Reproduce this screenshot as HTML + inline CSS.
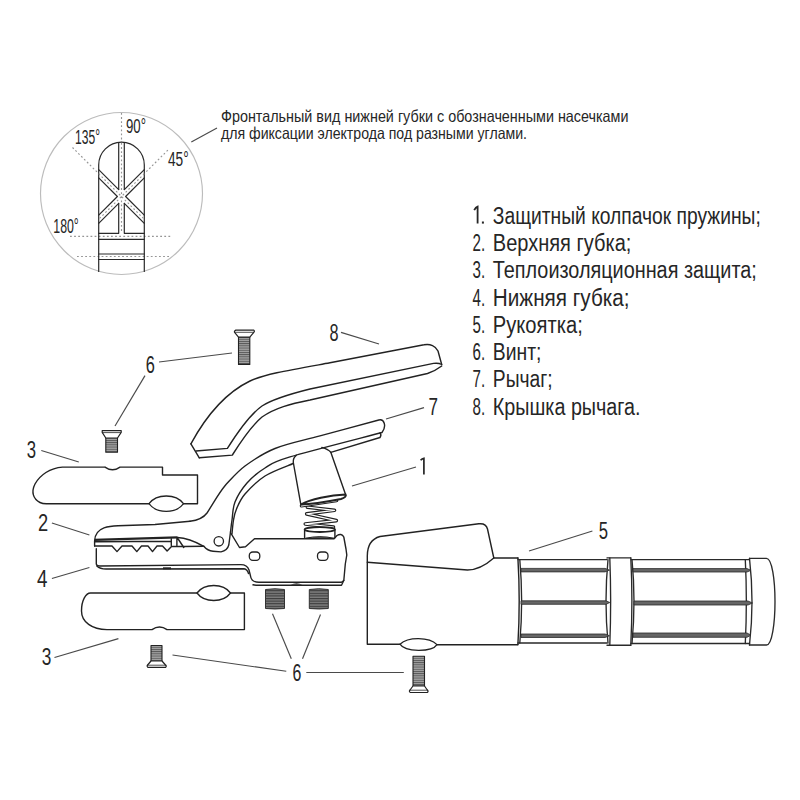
<!DOCTYPE html>
<html><head><meta charset="utf-8">
<style>
html,body{margin:0;padding:0;background:#fff;width:800px;height:800px;overflow:hidden}
svg{display:block}
text{font-family:"Liberation Sans",sans-serif;fill:#262626}
.k{fill:none;stroke:#222;stroke-width:1.4;stroke-linejoin:round;stroke-linecap:round}
.t{fill:none;stroke:#2a2a2a;stroke-width:1.2;stroke-linejoin:round;stroke-linecap:round}
.ld{fill:none;stroke:#4a4a4a;stroke-width:1.15}
.dot{fill:none;stroke:#959595;stroke-width:1.15;stroke-dasharray:1.8 2.3}
.sp{fill:none;stroke:#222;stroke-width:3.6;stroke-linecap:round}
.sw{fill:none;stroke:#fff;stroke-width:1.3;stroke-linecap:round}
.bar{fill:#666;stroke:#2a2a2a;stroke-width:0.8}
</style></head><body>
<svg width="800" height="800" viewBox="0 0 800 800">
<defs>
<pattern id="thr" width="6" height="2.6" patternUnits="userSpaceOnUse">
<rect width="6" height="2.6" fill="#7c7c7c"/><rect width="6" height="1.1" fill="#3c3c3c"/>
</pattern>
<pattern id="thr2" width="6" height="2.2" patternUnits="userSpaceOnUse">
<rect width="6" height="2.2" fill="#a4a4a4"/><rect width="6" height="0.9" fill="#555"/>
</pattern>
</defs>
<rect width="800" height="800" fill="#fff"/>

<!-- ===== circle detail ===== -->
<g id="circ">
<circle cx="121.5" cy="193.5" r="81" fill="none" stroke="#bcbcbc" stroke-width="1.15"/>
<line class="dot" x1="121.5" y1="113" x2="121.5" y2="142"/>
<line class="dot" x1="72.5" y1="147.5" x2="97.5" y2="172.5"/>
<line class="dot" x1="146.3" y1="171.7" x2="168.8" y2="149.2"/>
<line class="dot" x1="70" y1="236.3" x2="172" y2="236.3"/>
<line class="dot" x1="77" y1="256.5" x2="170" y2="256.5"/>
<path class="t" d="M98.7,271.5 V165 A22.8,22.8 0 0 1 144.3,165 V271.5"/>
<path class="t" d="M118.7,143 V189.4 M124.3,143 V189.4"/>
<line class="dot" x1="121.5" y1="143" x2="121.5" y2="233"/>
<path class="t" d="M98.7,169.6 L118.7,189.6 M98.7,177.9 L117.4,196.5 L98.7,215.2 M98.7,223.4 L118.7,203.4"/>
<path class="t" d="M144.3,169.6 L124.3,189.6 M144.3,177.9 L125.6,196.5 L144.3,215.2 M144.3,223.4 L124.3,203.4"/>
<line class="dot" x1="98.7" y1="173.7" x2="144.3" y2="219.3"/>
<line class="dot" x1="144.3" y1="173.7" x2="98.7" y2="219.3"/>
<path class="t" d="M118.7,203.4 V233.3 H98.7 M124.3,203.4 V233.3 H144.3"/>
<path class="t" d="M98.7,239.3 H144.3 M98.7,254 H144.3 M98.7,259.5 H144.3"/>
<text x="126" y="133" font-size="19.5" textLength="20" lengthAdjust="spacingAndGlyphs">90°</text>
<text x="75" y="144.4" font-size="19.5" textLength="25" lengthAdjust="spacingAndGlyphs">135°</text>
<text x="168" y="166.3" font-size="19.5" textLength="20.7" lengthAdjust="spacingAndGlyphs">45°</text>
<text x="53.3" y="233.3" font-size="19.5" textLength="25.5" lengthAdjust="spacingAndGlyphs">180°</text>
</g>
<line class="ld" x1="191.3" y1="141.9" x2="217" y2="128"/>
<text x="221" y="122.2" font-size="16.5" textLength="407.5" lengthAdjust="spacingAndGlyphs">Фронтальный вид нижней губки с обозначенными насечками</text>
<text x="221" y="138.6" font-size="16.5" textLength="306" lengthAdjust="spacingAndGlyphs">для фиксации электрода под разными углами.</text>

<!-- ===== list ===== -->
<g font-size="23.5">
<path d="M474.2,210.2 Q475.8,207.2 477.6,206.6 V223.6" fill="none" stroke="#262626" stroke-width="1.8"/><rect x="481.9" y="221.5" width="2" height="2.1" fill="#262626"/><text x="492.8" y="223.6" textLength="268.0" lengthAdjust="spacingAndGlyphs">Защитный колпачок пружины;</text>
<text x="472.6" y="250.9" textLength="12.6" lengthAdjust="spacingAndGlyphs">2.</text><text x="492.8" y="250.9" textLength="138.6" lengthAdjust="spacingAndGlyphs">Верхняя губка;</text>
<text x="472.6" y="278.2" textLength="12.6" lengthAdjust="spacingAndGlyphs">3.</text><text x="492.8" y="278.2" textLength="264.0" lengthAdjust="spacingAndGlyphs">Теплоизоляционная защита;</text>
<text x="472.6" y="305.5" textLength="12.6" lengthAdjust="spacingAndGlyphs">4.</text><text x="492.8" y="305.5" textLength="136.8" lengthAdjust="spacingAndGlyphs">Нижняя губка;</text>
<text x="472.6" y="332.8" textLength="12.6" lengthAdjust="spacingAndGlyphs">5.</text><text x="492.8" y="332.8" textLength="90.0" lengthAdjust="spacingAndGlyphs">Рукоятка;</text>
<text x="472.6" y="360.1" textLength="12.6" lengthAdjust="spacingAndGlyphs">6.</text><text x="492.8" y="360.1" textLength="48.6" lengthAdjust="spacingAndGlyphs">Винт;</text>
<text x="472.6" y="387.4" textLength="12.6" lengthAdjust="spacingAndGlyphs">7.</text><text x="492.8" y="387.4" textLength="59.8" lengthAdjust="spacingAndGlyphs">Рычаг;</text>
<text x="472.6" y="414.7" textLength="12.6" lengthAdjust="spacingAndGlyphs">8.</text><text x="492.8" y="414.7" textLength="147.8" lengthAdjust="spacingAndGlyphs">Крышка рычага.</text>
</g>

<!-- ===== labels ===== -->
<g font-size="24">
<text x="329.6" y="340.5" textLength="9.04" lengthAdjust="spacingAndGlyphs">8</text>
<text x="428.6" y="415.3" textLength="9.49" lengthAdjust="spacingAndGlyphs">7</text>
<text x="145.7" y="372.5" textLength="9.10" lengthAdjust="spacingAndGlyphs">6</text>
<text x="26.75" y="457.5" textLength="9.32" lengthAdjust="spacingAndGlyphs">3</text>
<text x="38" y="530.6" textLength="10.17" lengthAdjust="spacingAndGlyphs">2</text>
<text x="37" y="587" textLength="10.45" lengthAdjust="spacingAndGlyphs">4</text>
<text x="41.75" y="665.25" textLength="9.60" lengthAdjust="spacingAndGlyphs">3</text>
<text x="292.4" y="680.9" textLength="8.87" lengthAdjust="spacingAndGlyphs">6</text>
<text x="598.8" y="538.8" textLength="9.27" lengthAdjust="spacingAndGlyphs">5</text>
</g>
<path d="M420.6,460.2 Q422,458.6 423.9,458.3 V474.4" fill="none" stroke="#262626" stroke-width="1.7"/>
<g class="ld">
<line x1="341" y1="332.4" x2="379" y2="344"/>
<line x1="424" y1="407.6" x2="386" y2="419"/>
<line x1="416" y1="467" x2="352" y2="486"/>
<line x1="159" y1="362" x2="232" y2="353"/>
<line x1="145" y1="375.6" x2="115" y2="426"/>
<line x1="41.3" y1="450.5" x2="78.8" y2="462"/>
<line x1="51.9" y1="523" x2="89.4" y2="535"/>
<line x1="51.9" y1="578.5" x2="89.4" y2="567.5"/>
<line x1="54.5" y1="657.5" x2="118.4" y2="638.6"/>
<line x1="272.5" y1="613.8" x2="291.3" y2="658.8"/>
<line x1="320.5" y1="614.5" x2="302.5" y2="658.8"/>
<line x1="306.3" y1="672.5" x2="403.8" y2="672.5"/>
<line x1="172.5" y1="655" x2="286.3" y2="671.3"/>
<line x1="529" y1="551" x2="592.4" y2="531"/>
</g>

<!-- ===== screws ===== -->
<g stroke="#222" stroke-linejoin="round">
<rect x="238.5" y="336.8" width="11.3" height="27.6" fill="url(#thr2)" stroke-width="1.1"/>
<path d="M235.8,330.1 H253.8 Q255,331.2 253.8,332.4 L249.8,337.1 H238.5 L234.6,332.4 Q233.8,331.2 235.8,330.1 Z" fill="#fff" stroke-width="1.2"/>
<line x1="235" y1="332.3" x2="254" y2="332.3" stroke-width="0.8"/>
</g>
<g stroke="#222" stroke-linejoin="round">
<rect x="105.8" y="437.5" width="11.7" height="14.7" fill="url(#thr2)" stroke-width="1.1"/>
<path d="M102.2,430.6 H121.2 L121.2,432.4 L117.5,438 H105.8 L102.2,432.4 Z" fill="#fff" stroke-width="1.2"/>
<line x1="102.3" y1="432.6" x2="120.8" y2="432.6" stroke-width="0.8"/>
</g>
<g stroke="#222" stroke-linejoin="round">
<rect x="151" y="645.5" width="11" height="16" fill="url(#thr2)" stroke-width="1.1"/>
<path d="M148,667.4 H165.5 Q167,666.3 165.5,665 L162,661 H151 L147.6,665 Q146.5,666.3 148,667.4 Z" fill="#fff" stroke-width="1.2"/>
<line x1="147.2" y1="665.2" x2="166.3" y2="665.2" stroke-width="0.8"/>
</g>
<g stroke="#222" stroke-linejoin="round">
<rect x="413" y="656.3" width="11.5" height="30" fill="url(#thr2)" stroke-width="1.1"/>
<path d="M410.3,692.5 H427.3 Q428.8,691.3 427.3,690 L424.5,686 H413 L410,690 Q408.6,691.3 410.3,692.5 Z" fill="#fff" stroke-width="1.2"/>
<line x1="409.5" y1="690.2" x2="428" y2="690.2" stroke-width="0.8"/>
</g>
<g stroke="#333" stroke-width="1">
<path d="M265.5,589.5 Q275,588 284.5,589.5 V608.5 Q275,609.5 265.5,608.5 Z" fill="url(#thr)"/>
<path d="M309.3,589.5 Q318.8,588 328.3,589.5 V608.5 Q318.8,609.5 309.3,608.5 Z" fill="url(#thr)"/>
</g>

<!-- ===== upper protection 3 ===== -->
<path class="k" d="M105,467.1 H62.5 C50,468 40,475 35,484 C31,492 33,499 40,502.5 C42,503.5 44,503.8 46.3,503.8 H197.5 V475 H162.5 V467.1 H120 Q112.5,472.5 105,467.1"/>
<path d="M149,503.7 C156.6,493.4 175.9,493.4 183.5,503.7 C175.9,514.0 156.6,514.0 149,503.7 Z" fill="#fff" stroke="#222" stroke-width="1.3"/>

<!-- ===== lower protection 3 ===== -->
<path class="k" d="M90.5,593 H244.4 V629.6 H167 Q159.5,624.5 152,629.6 H107 C92,629.6 81.5,622 81.5,611 C81.5,600 86,593 90.5,593 Z"/>
<path d="M197,593 C204.4,583.0 223.1,583.0 230.5,593 C223.1,603.0 204.4,603.0 197,593 Z" fill="#fff" stroke="#222" stroke-width="1.3"/>

<!-- ===== lever 8 ===== -->
<g class="k">
<path d="M190.9,443.8 C205,418 225,393 250,381 C265,374 290,370 330,362.8 L424,344.8 C430,343.5 436,346 438,351 L441.7,364.5"/>
<path d="M196,451 L227.4,448.4 C237,433 250,414.5 262,406 C272,399.5 290,394 310,389 L433.5,363.4 C437,363 440,363.5 441.7,364.5"/>
<path d="M199.3,457.8 L232.3,455.1 C240,443 250,427 262,417 C275,408 290,404 310,400 L427.5,373.5 C433,371.5 438.5,368.5 441.7,366"/>
<path d="M190.9,443.8 L199.3,457.8"/>
</g>

<!-- ===== cap 1 (behind lever) ===== -->
<g class="k">
<path d="M296.3,455.3 C293.8,457.5 293,460 293.3,462.5 L300.8,504.4"/>
<path d="M321.8,447.4 C325.5,448.5 329,450 330.8,452.3 L345.4,493.9"/>
</g>

<!-- ===== lever 7 ===== -->
<g class="k">
<path d="M190,521.3 C197,520.4 203,518.5 207,513 C213,504 218,494 226,484.5  C229.2,481.4 236.8,472.0 245.0,466.0 C253.2,460.0 262.5,453.5 275.0,448.5 C287.5,443.5 302.7,440.6 320.0,435.9 C337.3,431.1 369.0,422.6 378.8,420.0 C384,418.5 387,426 382,432.5  C366.7,436.6 309.5,451.0 290.0,456.9 C270.5,462.8 272.2,463.6 265.0,468.0 C257.8,472.4 252.0,477.3 247.0,483.0 C242.0,488.7 237.5,495.8 235.0,502.0 C232.5,508.2 232.8,515.0 232.0,520.0 C231.2,525.0 230.8,530.0 230.5,532.0"/>
<path d="M380,433 C381,434 381,436 380,437.5 L330.8,452.3"/>
<path d="M293.3,463.5 C288.6,465.6 273.1,470.9 265.0,476.0 C256.9,481.1 249.8,488.5 245.0,494.0 C240.2,499.5 238.4,504.7 236.5,509.0 C234.6,513.3 234.2,515.9 233.5,520.0 C232.8,524.1 232.2,531.5 232.0,533.8"/>
</g>

<!-- ===== spring ===== -->
<g stroke-linejoin="round" stroke-linecap="round" fill="none">
<path d="M307.4,507.2 L334.5,510.3 L306.7,513.9 L336.3,520.6 L305.3,524 L333.5,527.1" stroke="#222" stroke-width="3.6"/>
<path d="M307.4,507.2 L334.5,510.3 L306.7,513.9 L336.3,520.6 L305.3,524 L333.5,527.1" stroke="#fff" stroke-width="1.3"/>
<path d="M301.5,505.8 L336.5,500.5" stroke="#222" stroke-width="3.6"/>
<path d="M301.5,505.8 L336.5,500.5" stroke="#fff" stroke-width="1.3"/>
</g>
<path d="M300.8,504.6 C310,499.5 330,495 345.6,494.6 C346.5,496 345,497.8 341,499 C328,501.5 312,504.2 300.8,504.6 Z" fill="#fff" stroke="#222" stroke-width="2"/>
<path d="M304.6,530 V537.8 M334.9,530 V537.8" class="k"/>
<ellipse cx="319.8" cy="529.6" rx="15.2" ry="2.4" fill="#fff" stroke="#222" stroke-width="1.8"/>
<path d="M305.5,538.3 Q320,535 334,538.3 Z" fill="#666" stroke="#222" stroke-width="1"/>

<!-- ===== upper jaw 2 ===== -->
<g class="k">
<path d="M94.6,540.9 C94.8,534 98,530 104,527.8 C108,526.5 112,526 118,525.8 L155,524.5 L190,521.3"/>
<path d="M94.6,540.9 V546 M177.5,537.5 C186,538 196,542 203.8,546.3 C206,549 209,551 213,551.3 L221,551.9 C225,551 228,548 228.8,545 L230.5,532"/>
<path d="M94.6,546 H112 L117,551.6 L122,546 H132 L136.8,551.6 L141.5,546 H148 L152.5,551.6 L157,546 H162.5 L167.1,551 L171.5,546.5 H183.8 L203.8,546.3"/>
<path d="M171.3,538.8 V545.5 M176.9,538.5 V545.5 M177.5,538 L183.8,547.5 M94.6,541.8 L171.3,541.3"/>
</g>
<path d="M94.6,539.8 L177.5,537.3" stroke="#222" stroke-width="2.2" fill="none"/>
<circle cx="218.8" cy="541.3" r="4.7" fill="none" stroke="#222" stroke-width="1.3"/>

<!-- ===== lower jaw 4 ===== -->
<g class="k">
<path d="M96.3,548.8 V564 C96.5,565.5 97.5,566 100,566 L240.8,564.6 C245,564.6 248,567 249,570 L250.5,576 C251,580 254,582.3 259,582.3 H341.5 L343.8,580.5 L345.3,564 L346.8,555 L346,549 L343.8,537 C342.5,534 339.5,534 337,535.5 L334,538.8 H254.5 L245.5,546.8 L239.5,547.5 L231.3,533.8"/>
<path d="M96.8,566 C99,568 102,569 106,569 L244,568.8 C246.5,569.3 247.8,571 248.5,573.5"/>
<path d="M253,584.8 Q255,585.3 259,585.3 H341.5 L343.8,580.5"/>
</g>
<rect x="163" y="567.3" width="8" height="2" fill="#222"/>
<path d="M290.5,584.8 Q296.5,581.8 302.5,584.8 Z" fill="#333"/>
<rect x="249.3" y="552" width="10.5" height="8.3" rx="3.5" fill="none" stroke="#222" stroke-width="1.3"/>
<rect x="317.5" y="552" width="10.5" height="8.3" rx="3.5" fill="none" stroke="#222" stroke-width="1.3"/>

<!-- ===== handle 5 ===== -->
<g class="k">
<path d="M367.3,644.2 V556 C367.3,546 371,539 380,536.5 L478.8,523.8 C483,523.3 486.5,525 487.5,529 L493.8,558 H517.9 M437,644.7 H517.9 M400,644.2 H367.3"/>
<path d="M367.3,562.3 L467.5,570 C478,570 487,564 493.8,558"/>
<path d="M517.9,557.9 Q520.5,601 517.9,644.5"/>
</g>
<path d="M400,644.2 C408,636.8 429,636.8 437,644.6 C432,652.3 405,652.3 400,644.2 Z" fill="#fff" stroke="#222" stroke-width="1.3"/>
<!-- grip -->
<g class="t" style="stroke-width:1.35">
<path d="M518,559.6 H607 M518,643 H607"/>
<path d="M519.8,559.6 Q523.5,601 519.8,643"/>
<path d="M608,559.6 Q604,601 608,643"/>
<path d="M607,557.9 H630.8 M607,645.2 H630.8"/>
<path d="M609.8,557.9 Q611.5,601 609.8,645.2"/>
<path d="M630.8,557.9 Q633,601 630.8,645.2"/>
<path d="M631,559.6 H749.5 M631,643.5 H749.5"/>
<path d="M632,559.6 Q636,601 632,643.5"/>
<path d="M745.3,559.6 Q747.4,601 745.3,643.5"/>
<path d="M749.5,558.3 H766.5 C772,558.3 775,580 775,601.5 C775,623 772,645 766.5,645 H749.5"/>
<path d="M749.5,558.3 Q754.5,601.5 749.5,645"/>
</g>
<g class="bar">
<path d="M521,568.4 H605 L609.5,570.1 L605,571.9 H521 Z"/>
<path d="M521,600.8 H606 L609.8,602.5 L606,604.3 H521 Z"/>
<path d="M521,634 H605 L609.5,635.8 L605,637.5 H521 Z"/>
<path d="M633,568.6 H747 L751,570.3 L747,572 H633 Z"/>
<path d="M634,601 H748 L752.5,603 L748,605 H634 Z"/>
<path d="M633,633 H747 L751,635.2 L747,637.3 H633 Z"/>
</g>

</svg>
</body></html>
